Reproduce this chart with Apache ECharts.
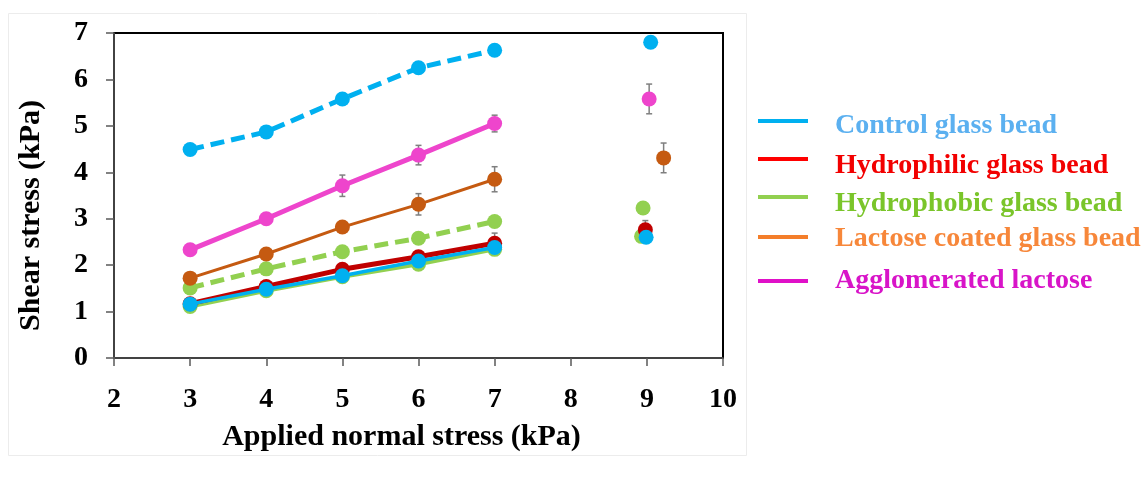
<!DOCTYPE html>
<html>
<head>
<meta charset="utf-8">
<script src="https://cdn.jsdelivr.net/npm/echarts@6/dist/echarts.min.js"></script>
<style>
html,body{margin:0;padding:0;background:#fff;}
#chart{width:1146px;height:491px;}
</style>
</head>
<body>
<div id="chart"></div>
<script>
// ---- data ----
const xVals = [3, 4, 5, 6, 7];
const controlDashed = [4.49, 4.87, 5.58, 6.25, 6.63];
const controlSolid = [1.16, 1.48, 1.77, 2.09, 2.38];
const hydrophilic = [1.17, 1.54, 1.91, 2.18, 2.47];
const hydrophilicErr = [0, 0, 0, 0, 0.22];
const hydrophobicSolid = [1.11, 1.45, 1.75, 2.02, 2.34];
const hydrophobicDashed = [1.51, 1.92, 2.29, 2.58, 2.94];
const lactoseCoated = [1.72, 2.24, 2.82, 3.31, 3.85];
const lactoseErr = [0.05, 0.05, 0.08, 0.23, 0.27];
const agglomerated = [2.33, 3.00, 3.71, 4.37, 5.05];
const agglomeratedErr = [0.05, 0.05, 0.23, 0.21, 0.18];

// isolated points near 9 kPa: [x, y, err]
const controlIso = [[9.05, 6.80, 0], [8.99, 2.60, 0]];
const hydrophilicIso = [[8.98, 2.76, 0.2]];
const hydrophobicIso = [[8.95, 3.23, 0], [8.93, 2.62, 0]];
const lactoseIso = [[9.22, 4.31, 0.32]];
const agglomeratedIso = [[9.03, 5.58, 0.32]];

const xTicks = [2, 3, 4, 5, 6, 7, 8, 9, 10];
const yTicks = [0, 1, 2, 3, 4, 5, 6, 7];

const legendNames = ['Control glass bead', 'Hydrophilic glass bead', 'Hydrophobic glass bead', 'Lactose coated glass bead', 'Agglomerated lactose'];

// ---- styles ----
const FONT = '"Liberation Serif", "Times New Roman", serif';
const C_BLUE = '#00B0F0', C_RED = '#C00000', C_GREEN = '#92D050', C_BROWN = '#C55A11', C_PINK = '#EE45CC';
const legendLine = ['#00B0F0', '#FF0000', '#92D050', '#F47E2A', '#E010C8'];
const legendText = ['#5BB0F0', '#F20000', '#7AC52A', '#F7873A', '#D814C8'];
const legendTop = [102, 138, 176, 221, 267];
const legendTextPad = [10, 14, 14, 4, 0];

function pairs(xs, ys) { return xs.map((x, i) => [x, ys[i]]); }
function triples(xs, ys, es) { return xs.map((x, i) => [x, ys[i], es[i]]); }

function lineSeries(name, ys, color, width, dashed, z) {
  return {
    name: name, type: 'line', data: pairs(xVals, ys),
    symbol: 'circle', symbolSize: 15, z: z,
    itemStyle: { color: color },
    lineStyle: { color: color, width: width, type: dashed ? [14, 7] : 'solid' },
    emphasis: { disabled: true }, animation: false
  };
}
function isoSeries(name, pts, color, z) {
  return {
    name: name, type: 'scatter', data: pts.map(p => [p[0], p[1]]),
    symbol: 'circle', symbolSize: 15, z: z,
    itemStyle: { color: color, opacity: 1 }, emphasis: { disabled: true }, animation: false
  };
}

const errData = []
  .concat(triples(xVals, agglomerated, agglomeratedErr))
  .concat(triples(xVals, lactoseCoated, lactoseErr))
  .concat(triples(xVals, hydrophilic, hydrophilicErr))
  .concat(agglomeratedIso, lactoseIso, hydrophilicIso)
  .filter(d => d[2] > 0);

const errSeries = {
  type: 'custom', z: 1, animation: false, silent: true,
  data: errData,
  encode: { x: 0, y: 1 },
  renderItem: function (params, api) {
    const x = api.value(0), y = api.value(1), e = api.value(2);
    const t = api.coord([x, y + e]), b = api.coord([x, y - e]);
    const st = { stroke: '#7f7f7f', lineWidth: 1.5 };
    return {
      type: 'group', children: [
        { type: 'line', shape: { x1: t[0], y1: t[1], x2: b[0], y2: b[1] }, style: st },
        { type: 'line', shape: { x1: t[0] - 3, y1: t[1], x2: t[0] + 3, y2: t[1] }, style: st },
        { type: 'line', shape: { x1: b[0] - 3, y1: b[1], x2: b[0] + 3, y2: b[1] }, style: st }
      ]
    };
  }
};

const legends = legendNames.map((n, i) => ({
  left: 758, top: legendTop[i], orient: 'vertical', selectedMode: false,
  itemWidth: 50, itemHeight: 4, padding: 0,
  formatter: '{t|{name}}',
  textStyle: {
    rich: { t: { color: legendText[i], fontFamily: FONT, fontWeight: 'bold', fontSize: 28, lineHeight: 30, padding: [legendTextPad[i], 0, 0, 22] } }
  },
  data: [{ name: n, icon: 'rect', itemStyle: { color: legendLine[i] } }]
}));

const option = {
  backgroundColor: '#fff',
  animation: false,
  graphic: [{
    type: 'rect', silent: true, z: -1,
    shape: { x: 8.5, y: 13.5, width: 738, height: 442 },
    style: { fill: 'none', stroke: '#ececec', lineWidth: 1 }
  }],
  grid: { left: 114, right: 423, top: 33, bottom: 133, show: true, borderColor: '#000', borderWidth: 2, backgroundColor: 'transparent' },
  legend: legends,
  xAxis: {
    type: 'value', min: xTicks[0], max: xTicks[xTicks.length - 1], interval: 1,
    name: 'Applied normal stress (kPa)', nameLocation: 'middle', nameGap: 64,
    nameTextStyle: { fontFamily: FONT, fontWeight: 'bold', fontSize: 30, color: '#000', padding: [0, 34, 0, 0] },
    axisLine: { show: true, lineStyle: { color: '#595959', width: 1.5 } },
    axisTick: { show: true, inside: false, length: 8, lineStyle: { color: '#595959', width: 1.5 } },
    axisLabel: { fontFamily: FONT, fontWeight: 'bold', fontSize: 28, color: '#000', margin: 28 },
    splitLine: { show: false }
  },
  yAxis: {
    type: 'value', min: yTicks[0], max: yTicks[yTicks.length - 1], interval: 1,
    name: 'Shear stress (kPa)', nameLocation: 'middle', nameGap: 68, nameRotate: 90,
    nameTextStyle: { fontFamily: FONT, fontWeight: 'bold', fontSize: 30, color: '#000', padding: [0, 40, 0, 0] },
    axisLine: { show: true, lineStyle: { color: '#595959', width: 1.5 } },
    axisTick: { show: true, inside: false, length: 8, lineStyle: { color: '#595959', width: 1.5 } },
    axisLabel: { fontFamily: FONT, fontWeight: 'bold', fontSize: 28, color: '#000', margin: 26 },
    splitLine: { show: false }
  },
  series: [
    errSeries,
    lineSeries(legendNames[0], controlDashed, C_BLUE, 5, true, 3),
    lineSeries(legendNames[2], hydrophobicSolid, C_GREEN, 4, false, 2),
    lineSeries(legendNames[2], hydrophobicDashed, C_GREEN, 5, true, 3),
    lineSeries(legendNames[1], hydrophilic, C_RED, 5, false, 3),
    lineSeries(legendNames[0], controlSolid, C_BLUE, 3.5, false, 4),
    lineSeries(legendNames[3], lactoseCoated, C_BROWN, 3, false, 3),
    lineSeries(legendNames[4], agglomerated, C_PINK, 5, false, 3),
    isoSeries(legendNames[2], hydrophobicIso, C_GREEN, 2),
    isoSeries(legendNames[1], hydrophilicIso, C_RED, 3),
    isoSeries(legendNames[0], controlIso, C_BLUE, 4),
    isoSeries(legendNames[3], lactoseIso, C_BROWN, 3),
    isoSeries(legendNames[4], agglomeratedIso, C_PINK, 3)
  ]
};

const chart = echarts.init(document.getElementById('chart'), null, { renderer: 'canvas' });
chart.setOption(option);
</script>
</body>
</html>
